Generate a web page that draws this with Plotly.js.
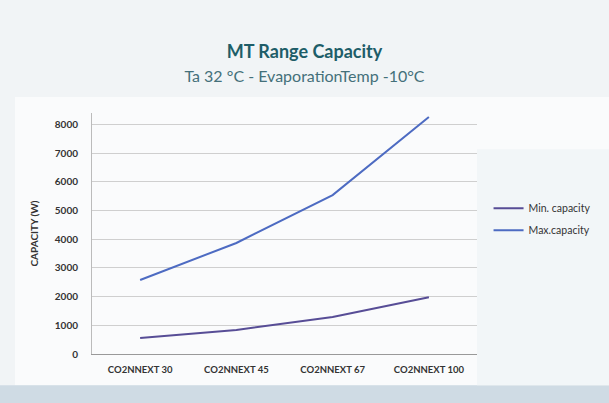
<!DOCTYPE html>
<html><head><meta charset="utf-8">
<script src="https://cdn.plot.ly/plotly-3.0.1.min.js"></script>
<style>html,body{margin:0;padding:0;background:#f3f6f8;}#chart{width:609px;height:403px;}</style>
</head><body><div id="chart"></div>
<script>
var categories = ["CO2NNEXT 30", "CO2NNEXT 45", "CO2NNEXT 67", "CO2NNEXT 100"];
var minCapacity = [560, 840, 1290, 1980];
var maxCapacity = [2580, 3870, 5540, 8260];
var yTicks = [0, 1000, 2000, 3000, 4000, 5000, 6000, 7000, 8000];

var font = "Lato, 'Open Sans', sans-serif";
var traces = [
  {x: categories, y: minCapacity, type: "scatter", mode: "lines", name: "Min. capacity",
   legendgroup: "a", line: {color: "#574d96", width: 2}},
  {x: categories, y: maxCapacity, type: "scatter", mode: "lines", name: "Max.capacity",
   legendgroup: "b", line: {color: "#4d6bc2", width: 2}}
];
var layout = {
  width: 609, height: 403,
  margin: {l: 92, r: 132, t: 113, b: 49},
  paper_bgcolor: "#f1f4f6", plot_bgcolor: "rgba(255,255,255,0)",
  font: {family: font, color: "#333"},
  title: {text: "<b>MT Range Capacity</b><br><span style='font-size:16px;color:#44707a'>Ta 32 °C - EvaporationTemp -10°C</span>",
          font: {size: 18, color: "#1e5d68", family: font}, x: 0.5, xanchor: "center", y: 0.855, yanchor: "middle"},
  xaxis: {type: "category", showgrid: false, showline: true, linecolor: "#999", linewidth: 1,
          ticks: "", tickfont: {size: 9.5, color: "#333", family: font, weight: 700}, ticklabelstandoff: 7,
          range: [-0.5, 3.5], fixedrange: true},
  yaxis: {range: [0, 8400], tickvals: yTicks, showgrid: true, gridcolor: "#cfcfcf", gridwidth: 1,
          zeroline: false, showline: true, linecolor: "#bbb", ticks: "",
          tickfont: {size: 10, color: "#333", family: font, weight: 700}, ticklabelstandoff: 11,
          title: {text: "<b>CAPACITY (W)</b>", font: {size: 10, color: "#333", family: font}, standoff: 14}},
  legend: {x: 1.03, y: 0.665, xanchor: "left", yanchor: "top", bgcolor: "rgba(0,0,0,0)",
           font: {size: 10.5, color: "#333", family: font}, itemwidth: 30, tracegroupgap: 3},
  shapes: [
    {type: "rect", xref: "paper", yref: "paper", x0: -0.2, x1: 1.35, y0: -0.13, y1: 1.066,
     fillcolor: "#fafbfc", line: {width: 0}, layer: "below"},
    {type: "rect", xref: "paper", yref: "paper", x0: -0.25, x1: 1.35, y0: -0.25, y1: -0.13,
     fillcolor: "#cfdbe4", line: {width: 0}, layer: "below"},
    {type: "rect", xref: "paper", yref: "paper", x0: 1.0, x1: 1.35, y0: -0.13, y1: 0.85,
     fillcolor: "#f2f6f8", line: {width: 0}, layer: "below"}
  ],
  showlegend: true
};
Plotly.newPlot("chart", traces, layout, {displayModeBar: false, staticPlot: true});
</script></body></html>
